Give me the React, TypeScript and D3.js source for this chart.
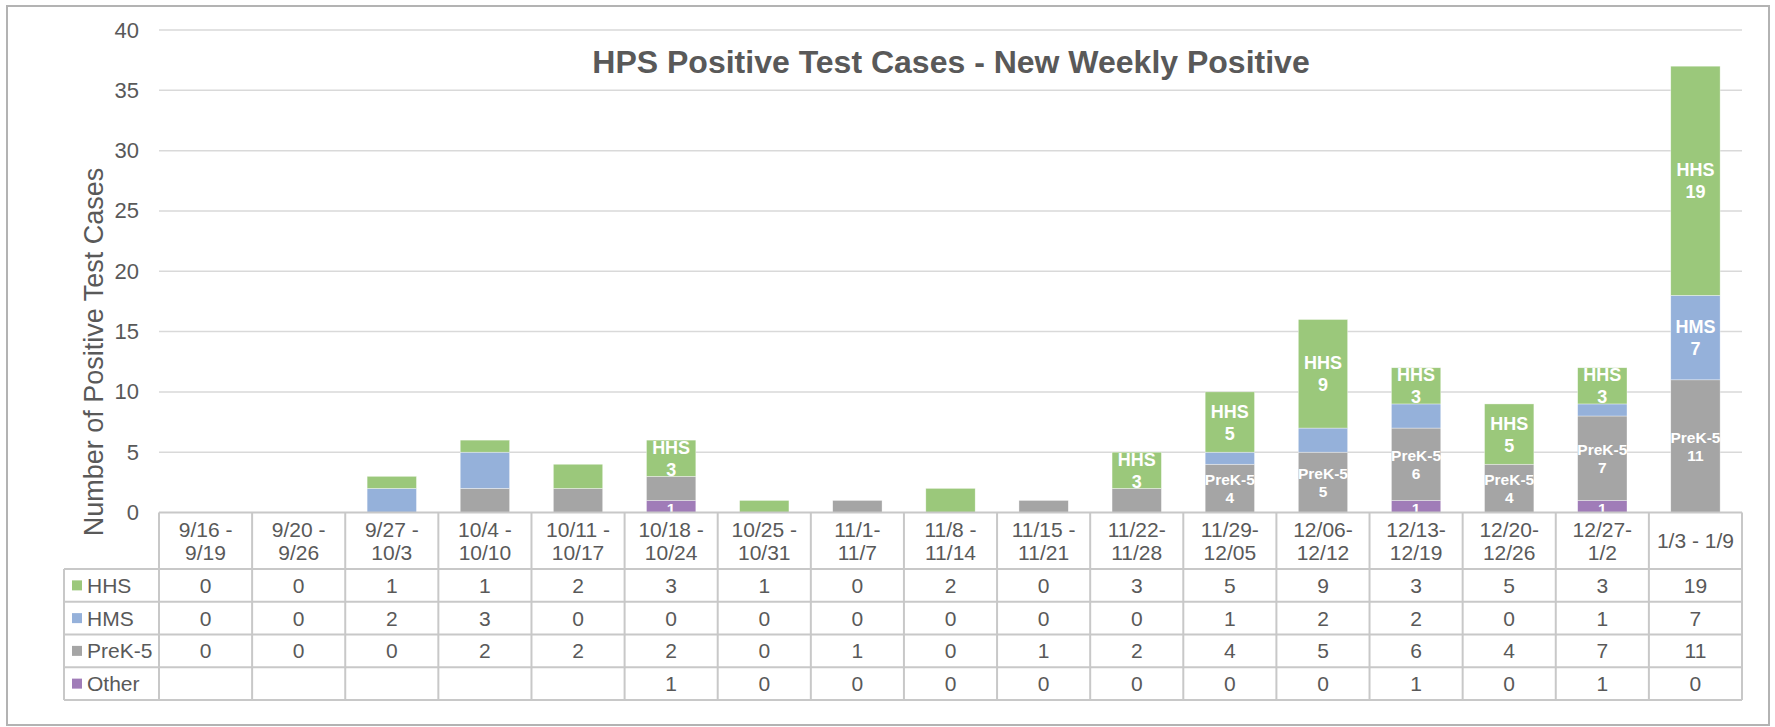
import React from 'react';
import * as d3 from 'd3';

const weeks = [
  '9/16 -\n9/19', '9/20 -\n9/26', '9/27 -\n10/3', '10/4 -\n10/10', '10/11 -\n10/17',
  '10/18 -\n10/24', '10/25 -\n10/31', '11/1-\n11/7', '11/8 -\n11/14', '11/15 -\n11/21',
  '11/22-\n11/28', '11/29-\n12/05', '12/06-\n12/12', '12/13-\n12/19', '12/20-\n12/26',
  '12/27-\n1/2', '1/3 - 1/9',
];
const hhs = [0, 0, 1, 1, 2, 3, 1, 0, 2, 0, 3, 5, 9, 3, 5, 3, 19];
const hms = [0, 0, 2, 3, 0, 0, 0, 0, 0, 0, 0, 1, 2, 2, 0, 1, 7];
const prek = [0, 0, 0, 2, 2, 2, 0, 1, 0, 1, 2, 4, 5, 6, 4, 7, 11];
const other = [null, null, null, null, null, 1, 0, 0, 0, 0, 0, 0, 0, 1, 0, 1, 0];
const yTicks = [0, 5, 10, 15, 20, 25, 30, 35, 40];

// which bars carry a data label in the original
const hhsLabelled = [5, 10, 11, 12, 13, 14, 15, 16];
const hmsLabelled = [16];
const prekLabelled = [11, 12, 13, 14, 15, 16];
const otherLabelled = [5, 13, 15];

const series = [
  { key: 'HHS', values: hhs, color: '#9BC87B', labelled: hhsLabelled, showName: true },
  { key: 'HMS', values: hms, color: '#95B1DA', labelled: hmsLabelled, showName: true },
  { key: 'PreK-5', values: prek, color: '#A5A5A5', labelled: prekLabelled, showName: true },
  { key: 'Other', values: other, color: '#A07CB8', labelled: otherLabelled, showName: false },
];

const W = 1775;
const H = 727;
const plotLeft = 159;
const plotRight = 1742;
const plotTop = 30;
const plotBottom = 512.5;
const headerBottom = 569;
const rowH = 32.75;
const rowLabelLeft = 64;
const textColor = '#595959';
const font = 'Arial, "Liberation Sans", sans-serif';

const App = () => {
  const colX = d3.scaleBand<number>().domain(d3.range(weeks.length)).range([plotLeft, plotRight]);
  const barX = d3.scaleBand<number>().domain(d3.range(weeks.length)).range([plotLeft, plotRight])
    .paddingInner(0.47).paddingOuter(0.235);
  const y = d3.scaleLinear().domain([0, 40]).range([plotBottom, plotTop]);

  const rows = weeks.map((w, i) => ({
    i, HHS: hhs[i], HMS: hms[i], 'PreK-5': prek[i], Other: other[i] ?? 0,
  }));
  const stackOrder = ['Other', 'PreK-5', 'HMS', 'HHS'];
  const stacked = d3.stack<any>().keys(stackOrder)(rows);
  const colorOf = (k: string) => series.find(s => s.key === k)!.color;

  const tableBottom = headerBottom + rowH * series.length;

  return (
    <svg width={W} height={H} style={{ position: 'absolute', left: 0, top: 0, fontFamily: font }}>
      <defs>
        <clipPath id="plotClip">
          <rect x={plotLeft} y={0} width={plotRight - plotLeft} height={plotBottom} />
        </clipPath>
      </defs>
      <rect x={0} y={0} width={W} height={H} fill="#fff" />
      <rect x={7} y={6} width={1762} height={719} fill="none" stroke="#b3b3b3" strokeWidth={2} />

      {/* gridlines */}
      {yTicks.filter(t => t > 0).map(t => (
        <line key={t} x1={plotLeft} x2={plotRight} y1={y(t)} y2={y(t)} stroke="#d9d9d9" strokeWidth={1.5} />
      ))}
      {yTicks.map(t => (
        <text key={t} x={139} y={y(t) + 7.5} textAnchor="end" fontSize={22} fill={textColor}>{t}</text>
      ))}
      <text transform={`translate(103,352) rotate(-90)`} textAnchor="middle" fontSize={27} fill={textColor}>
        Number of Positive Test Cases
      </text>
      <text x={951} y={73} textAnchor="middle" fontSize={32} fontWeight="bold" fill={textColor}>
        HPS Positive Test Cases - New Weekly Positive
      </text>

      {/* bars */}
      <g>
        {stacked.map(layer => (
          <g key={layer.key} fill={colorOf(layer.key)}>
            {layer.map((d, i) => d[1] - d[0] > 0 ? (
              <rect key={i} x={barX(i)} width={barX.bandwidth()} y={y(d[1])} height={y(d[0]) - y(d[1])}
                stroke="#fff" strokeWidth={0.6} strokeOpacity={0.6} />
            ) : null)}
          </g>
        ))}
      </g>

      {/* data labels */}
      <g clipPath="url(#plotClip)" fill="#fff" fontWeight="bold" textAnchor="middle">
        {stacked.map(layer => {
          const s = series.find(q => q.key === layer.key)!;
          const big = s.key === 'HHS' || s.key === 'HMS';
          const fs = big ? 18 : 15.5;
          const gap = big ? 22 : 18.3;
          return s.labelled.map(i => {
            const d = layer[i];
            const cx = barX(i)! + barX.bandwidth() / 2;
            const cy = (y(d[0]) + y(d[1])) / 2;
            if (!s.showName) {
              return <text key={s.key + i} x={cx} y={cy + fs * 0.36 + 2} fontSize={fs}>{s.values[i]}</text>;
            }
            return (
              <text key={s.key + i} x={cx} fontSize={fs}>
                <tspan x={cx} y={cy - gap / 2 + fs * 0.36}>{s.key}</tspan>
                <tspan x={cx} y={cy + gap / 2 + fs * 0.36}>{s.values[i]}</tspan>
              </text>
            );
          });
        })}
      </g>

      {/* data table */}
      <g stroke="#c8c8c8" strokeWidth={2}>
        <line x1={plotLeft} x2={plotRight} y1={plotBottom} y2={plotBottom} />
        {d3.range(series.length + 1).map(r => (
          <line key={r} x1={rowLabelLeft} x2={plotRight} y1={headerBottom + r * rowH} y2={headerBottom + r * rowH} />
        ))}
        <line x1={rowLabelLeft} x2={rowLabelLeft} y1={headerBottom} y2={tableBottom} />
        {d3.range(weeks.length + 1).map(c => {
          const x = c < weeks.length ? colX(c)! : plotRight;
          return <line key={c} x1={x} x2={x} y1={plotBottom} y2={tableBottom} />;
        })}
      </g>
      <g fontSize={21} fill={textColor} textAnchor="middle">
        {weeks.map((w, i) => {
          const lines = w.split('\n');
          const cx = colX(i)! + colX.bandwidth() / 2;
          const mid = (plotBottom + headerBottom) / 2;
          return (
            <text key={i} x={cx}>
              {lines.map((ln, j) => (
                <tspan key={j} x={cx} y={mid + (j - (lines.length - 1) / 2) * 23.5 + 7.5}>{ln}</tspan>
              ))}
            </text>
          );
        })}
        {series.map((s, r) => (
          <g key={s.key}>
            <rect x={72} y={headerBottom + r * rowH + rowH / 2 - 5} width={10} height={10} fill={s.color} />
            <text x={87} y={headerBottom + r * rowH + rowH / 2 + 7.5} textAnchor="start">{s.key}</text>
            {s.values.map((v, i) => v === null ? null : (
              <text key={i} x={colX(i)! + colX.bandwidth() / 2} y={headerBottom + r * rowH + rowH / 2 + 7.5}>{v}</text>
            ))}
          </g>
        ))}
      </g>
    </svg>
  );
};

export default App;
